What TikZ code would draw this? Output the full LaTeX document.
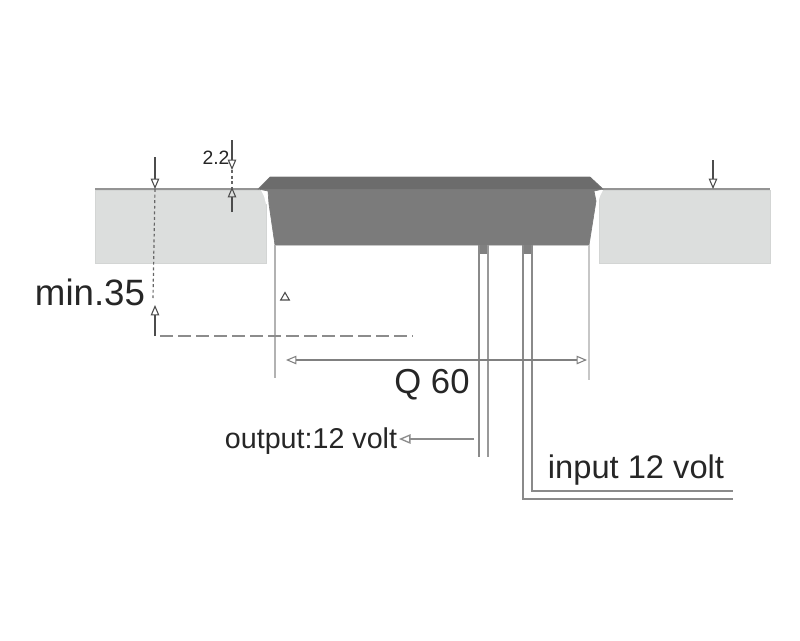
\documentclass[tikz,border=0pt]{standalone}
\usepackage{fontspec}
\setmainfont{Liberation Sans}
\usetikzlibrary{shapes,arrows,positioning}
\definecolor{panelgray}{HTML}{DCDEDD}
\definecolor{bodygray}{HTML}{7B7B7B}
\definecolor{bandgray}{HTML}{6C6C6C}
\definecolor{wiregray}{HTML}{8A8A8A}
\tikzstyle{panel} = [fill=panelgray, draw=panelgray!96!black, line width=0.4pt]
\tikzstyle{body} = [fill=bodygray, draw=bodygray, line width=0.5pt]
\tikzstyle{wire} = [draw, color=wiregray, line width=1.1pt]
\tikzstyle{guide} = [draw, color=black!30, line width=0.8pt]
\tikzstyle{arrow} = [draw, color=black!70, line width=0.8pt, -open triangle 45]
\tikzstyle{dimline} = [draw, color=black!50, line width=0.8pt, open triangle 45-open triangle 45]
\tikzstyle{dotted line} = [draw, color=black!60, line width=0.9pt, dash pattern=on 2.2pt off 2pt]
\tikzstyle{label} = [color=black!85, inner sep=0pt]
\begin{document}
\begin{tikzpicture}[x=0.75pt,y=-0.75pt]
  \useasboundingbox (0,0) rectangle (800,640);

  % cut-out panels
  \path[panel] (95,190) rectangle (266,263);
  \path[panel] (599,190) rectangle (770,263);
  \path[fill=white] (261,190) -- (268,190) -- (268,204) -- (266,204) -- (264,196) -- cycle;
  \path[fill=white] (596,190) -- (603,190) -- (600,196) -- (598,204) -- (596,204) -- cycle;
  \draw[color=black!42,line width=0.9pt] (95,189) -- (259,189) (602,189) -- (770,189);

  % lamp body
  \path[body] (258,189) -- (270,177) -- (590,177) -- (603,189) -- (594,191)
    -- (596,201) -- (589,245) -- (275,245) -- (269,204) -- (268,191) -- cycle;
  \path[fill=bandgray] (259,189) -- (270,177) -- (590,177) -- (602,189) -- cycle;

  % wires
  \coordinate (outa) at (479,245);
  \coordinate (outb) at (488,245);
  \coordinate (ina) at (523,245);
  \coordinate (inb) at (532,245);
  \path[fill=black!50] (479,245) rectangle (488,254);
  \path[fill=black!50] (523,245) rectangle (532,254);
  \path[wire] (outa) -- (479,457);
  \path[wire,color=black!40] (outb) -- (488,457);
  \path[wire] (ina) |- (733,499);
  \path[wire] (inb) |- (733,491);

  % guides
  \path[guide] (275,245) -- (275,378);
  \path[guide,color=black!22] (589,245) -- (589,380);
  \path[draw,color=black!45,line width=1.3pt,dash pattern=on 10pt off 3.5pt] (160,336) -- (413,336);

  % Q 60
  \coordinate (qleft) at (286,360);
  \coordinate (qright) at (587,360);
  \path[dimline] (qleft) -- (qright);
  \node[label,font=\fontsize{26}{26}\selectfont] (qsize) at (432,385) {Q 60};
  \node[draw=black!70,line width=0.8pt,regular polygon,regular polygon sides=3,minimum size=7.5pt,inner sep=0pt] (mark) at (285,297.5) {};

  % min.35
  \node[label,font=\fontsize{27.5}{27.5}\selectfont] (minsize) at (90,292) {min.35};
  \coordinate (mintop) at (155,157);
  \coordinate (minedge) at (155,189);
  \coordinate (minlow) at (155,336);
  \coordinate (minup) at (155,305);
  \path[arrow] (mintop) -- (minedge);
  \path[dotted line] (minedge) -- (153,298);
  \path[arrow] (minlow) -- (minup);

  % 2.2
  \node[label,font=\fontsize{14.5}{14.5}\selectfont] (lip) at (216,158) {2.2};
  \coordinate (liptop) at (232,140);
  \coordinate (lipmid) at (232,170);
  \coordinate (lipedge) at (232,212);
  \coordinate (lipup) at (232,187);
  \path[arrow] (liptop) -- (lipmid);
  \path[dotted line] (lipmid) -- (lipup);
  \path[arrow] (lipedge) -- (lipup);

  % right panel
  \coordinate (rtop) at (713,160);
  \coordinate (redge) at (713,189);
  \path[arrow] (rtop) -- (redge);

  % texts
  \node[label,font=\fontsize{21.5}{21.5}\selectfont] (output) at (311,441) {output:12 volt};
  \coordinate (outfrom) at (474,439);
  \coordinate (outend) at (399,439);
  \path[arrow,color=black!45,line width=1pt] (outfrom) -- (outend);
  \node[label,font=\fontsize{24.5}{24.5}\selectfont] (input) at (636,470) {input 12 volt};
\end{tikzpicture}
\end{document}
